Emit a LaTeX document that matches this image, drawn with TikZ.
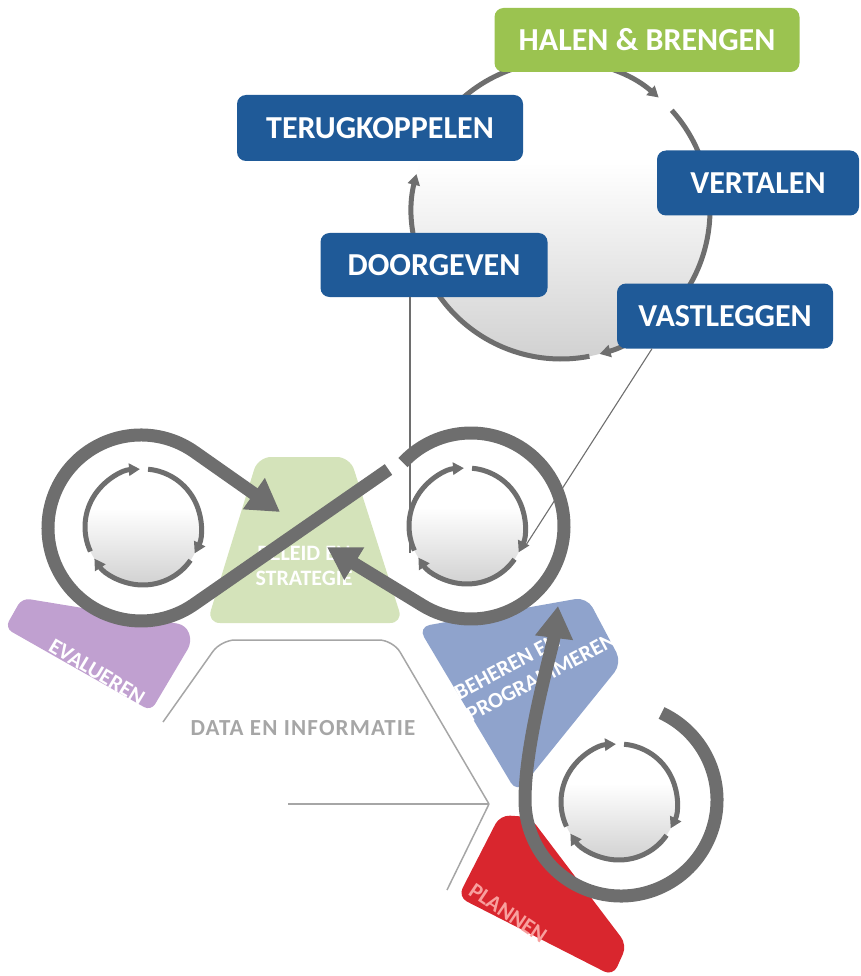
\documentclass[tikz,border=0pt]{standalone}
\usepackage{fontspec}
\setmainfont{Carlito}
\usetikzlibrary{arrows.meta}

\definecolor{boxblue}{RGB}{31,90,152}
\definecolor{boxgreen}{RGB}{155,195,80}
\definecolor{loopgrey}{RGB}{110,110,110}
\definecolor{leafpale}{RGB}{212,227,186}
\definecolor{lilac}{RGB}{192,160,208}
\definecolor{slate}{RGB}{143,163,204}
\definecolor{planred}{RGB}{217,38,46}
\definecolor{planpink}{RGB}{248,160,158}
\definecolor{datagrey}{RGB}{166,166,166}

% white bowl, greying towards the bottom
\pgfdeclareverticalshading{bowl}{100bp}{color(0bp)=(black!18); color(25bp)=(black!18);
    color(58bp)=(white); color(100bp)=(white)}

\begin{document}
\begin{tikzpicture}[x=1pt, y=-1pt, >={Triangle[length=11pt,width=12pt]},
    box/.style={rounded corners=9pt, text=white, inner sep=0pt,
        font=\fontsize{32}{32}\selectfont\bfseries},
    ring/.style={line width=5pt, draw=loopgrey},
    eight/.style={line width=13pt, draw=loopgrey, -{Triangle[length=32pt,width=36pt]}},
    tag/.style={text=white, font=\fontsize{22}{25}\selectfont\bfseries},
    leader/.style={draw=loopgrey, line width=1.1pt}]
    \useasboundingbox (0,0) rectangle (860,976);

    % Segments of the hexagon
    \fill[leafpale, rounded corners=13pt] (258,457) -- (350,457) -- (403,623) -- (207,623) -- cycle;
    \fill[lilac, rounded corners=8pt] (5,628) -- (22,598) -- (186,625) -- (192,642) -- (151,711) -- cycle;
    \fill[slate, rounded corners=12pt] (418,627) -- (587,597) -- (622,663) -- (517,793) -- cycle;
    \fill[planred, rounded corners=10pt] (500,815) -- (530,817) -- (627,945) -- (613,976) -- (458,897) -- cycle;

    % Data en informatie outline
    \draw[datagrey, line width=1.5pt, rounded corners=14pt] (163,722) -- (221,640) -- (393,640) -- (489,804);
    \draw[datagrey, line width=1.5pt] (489,804) -- (447,890);
    \draw[datagrey, line width=1.5pt] (288,804) -- (489,804);

    % Labels of the segments
    \node[tag, align=center] (beleid) at (304,566) {BELEID EN\\STRATEGIE};
    \node[tag, rotate=-31] (evalueren) at (97,672) {EVALUEREN};
    \node[tag, rotate=28, align=left] (beheren) at (535,666) {BEHEREN EN\\PROGRAMMEREN};
    \node[tag, text=planpink, rotate=-34] (plannen) at (508,913) {PLANNEN};
    \node[text=datagrey, font=\fontsize{23}{23}\selectfont\bfseries\addfontfeature{LetterSpace=5}] (data) at (303,728) {DATA EN INFORMATIE};

    % Top cycle
    \coordinate (hub) at (561,210);
    \shade[shading=bowl] (hub) circle (149);
    \foreach \s/\e in {-158/-49, -42/75, 79/194}
        \draw[ring, ->] (hub) ++(\s:149) arc[start angle=\s, end angle=\e, radius=149];

    % Boxes
    \node[box, fill=boxgreen, minimum width=305pt, minimum height=64pt] (halen) at (647,40) {HALEN \& BRENGEN};
    \node[box, fill=boxblue, minimum width=286pt, minimum height=66pt] (terug) at (380,128) {TERUGKOPPELEN};
    \node[box, fill=boxblue, minimum width=202pt, minimum height=65pt] (vertalen) at (758,183) {VERTALEN};
    \node[box, fill=boxblue, minimum width=227pt, minimum height=64pt] (doorgeven) at (434,265) {DOORGEVEN};
    \node[box, fill=boxblue, minimum width=216pt, minimum height=65pt] (vastleggen) at (725,316) {VASTLEGGEN};

    % Small cycles inside the loops
    \foreach \cx/\cy in {143/527, 467/526, 619/802} {
        \shade[shading=bowl] (\cx,\cy) circle (58);
        \foreach \a in {-205,-85,35}
            \draw[ring, ->] (\cx,\cy) ++(\a:58) arc[start angle=\a, end angle=\a+112, radius=58];
    }

    % Leader lines
    \coordinate (dgfoot) at (410,553);
    \coordinate (vlfoot) at (526,545);
    \draw[leader] ([xshift=-24pt]doorgeven.south) -- (dgfoot);
    \draw[leader] ([xshift=-73pt]vastleggen.south) -- (vlfoot);

    % Figure eight
    \draw[eight] (388.5,469.5) -- (193.4,604.8) arc[start angle=55.7, end angle=305.1, radius=93] -- (280,512);
    \draw[eight] (471,526) ++(223:93) arc[start angle=223, end angle=481.4, radius=93] -- (327,547);

    % Lower loop
    \draw[eight] (621,800) ++(-65:96) arc[start angle=-65, end angle=180, radius=96]
        .. controls +(0,-60) and +(-5,40) .. (558,606);
\end{tikzpicture}
\end{document}
